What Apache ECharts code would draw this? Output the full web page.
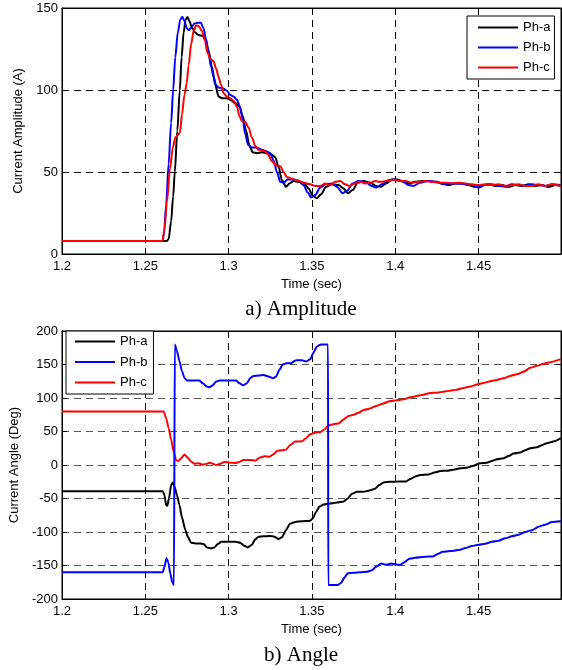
<!DOCTYPE html>
<html>
<head>
<meta charset="utf-8">
<script src="https://cdn.jsdelivr.net/npm/echarts@6/dist/echarts.min.js"></script>
<style>
html,body{margin:0;padding:0;background:#fff;}
#chart{width:562px;height:670px;}
</style>
</head>
<body>
<div id="chart"></div>
<script>
// ---------- DATA ----------
const seriesNames = ['Ph-a', 'Ph-b', 'Ph-c'];
const xTickStart = 1.2, xTickStep = 0.05, xEnd = 1.4995;
const ampTicks = [0, 50, 100, 150];
const angTicks = [-200, -150, -100, -50, 0, 50, 100, 150, 200];

// Amplitude, phase a
const ampATime = [1.2,1.2628,1.2640,1.2655,1.2667,1.2677,1.2692,1.2707,1.2718,1.2730,1.2742,1.2753,1.2765,1.2780,1.2800,1.2820,1.2845,1.2860,1.2880,1.2900,1.2920,1.2940,1.2960,1.2990,1.3010,1.3040,1.3065,1.3085,1.3105,1.3125,1.3145,1.3170,1.3200,1.3230,1.3260,1.3280,1.3300,1.3320,1.3345,1.3365,1.3390,1.3420,1.3450,1.3480,1.3505,1.3530,1.3555,1.3585,1.3620,1.3660,1.3690,1.3715,1.3745,1.3775,1.3810,1.3850,1.3885,1.3915,1.3945,1.3980,1.4010,1.4050,1.4085,1.4120,1.4160,1.4200,1.4240,1.4280,1.4320,1.4360,1.4400,1.4440,1.4480,1.4520,1.4560,1.4600,1.4640,1.4680,1.4720,1.4760,1.4800,1.4840,1.4880,1.4920,1.4960,1.4995];
const ampAVal  = [8,8,9,20,35,50,75,100,120,135,143,144.5,142,138,135,133.5,133,131,124,114,103,96,95,95,94,92,90,84,75,66,62,61.5,62,61.5,60.5,59,53,45,41,43,44.5,44,43.5,40,35.5,34,36.5,41,42.5,42,40,37,39,43.5,44.5,43.5,41.5,41,43,45.5,45.5,44,43,44,44.5,44.5,44,43,42,43,43,42,41,42,42.5,41.5,42,41,42,41.5,42.5,41.5,42,41,42,41.5];

// Amplitude, phase b
const ampBTime = [1.2,1.2603,1.2612,1.2625,1.2640,1.2655,1.2667,1.2680,1.2695,1.2710,1.2722,1.2735,1.2750,1.2762,1.2775,1.2795,1.2815,1.2833,1.2848,1.2865,1.2880,1.2895,1.2910,1.2925,1.2940,1.2965,1.2990,1.3010,1.3030,1.3050,1.3067,1.3085,1.3100,1.3117,1.3140,1.3165,1.3200,1.3230,1.3250,1.3270,1.3290,1.3310,1.3330,1.3355,1.3390,1.3420,1.3450,1.3475,1.3495,1.3520,1.3550,1.3580,1.3620,1.3650,1.3685,1.3710,1.3745,1.3780,1.3820,1.3860,1.3885,1.3920,1.3960,1.4000,1.4040,1.4080,1.4110,1.4150,1.4200,1.4250,1.4290,1.4330,1.4380,1.4420,1.4460,1.4500,1.4540,1.4580,1.4620,1.4660,1.4700,1.4740,1.4780,1.4820,1.4860,1.4900,1.4940,1.4995];
const ampBVal  = [8,8,12,30,55,80,100,120,135,143,144.7,142,137.5,136.5,138,140.5,141,141,138,131,122,114,108,103,101.5,101,99.5,97,96,94,90,82,73,66.5,65,65,63.5,62.5,61.5,57,50,44,43.5,45.5,45.5,44.5,42,37.5,34.5,36,40.5,42.5,43,41,37,38.5,43,44.5,44,41.5,40.5,42.5,45,45.5,44.5,42,41.5,43.5,44.5,44,42.5,43,43,42.5,42,40.5,42,42.5,41.5,41,42.5,42,41.5,42.5,42,41.5,42.5,42];

// Amplitude, phase c
const ampCTime = [1.2,1.2603,1.2615,1.2630,1.2648,1.2665,1.2680,1.2695,1.2708,1.2720,1.2735,1.2748,1.2760,1.2775,1.2790,1.2805,1.2820,1.2840,1.2858,1.2872,1.2890,1.2910,1.2925,1.2940,1.2955,1.2970,1.2990,1.3010,1.3030,1.3050,1.3065,1.3080,1.3100,1.3120,1.3140,1.3160,1.3180,1.3210,1.3235,1.3260,1.3285,1.3310,1.3330,1.3350,1.3375,1.3410,1.3450,1.3490,1.3520,1.3550,1.3580,1.3610,1.3640,1.3670,1.3700,1.3725,1.3760,1.3790,1.3820,1.3850,1.3880,1.3910,1.3950,1.3990,1.4020,1.4060,1.4100,1.4140,1.4180,1.4220,1.4260,1.4300,1.4340,1.4380,1.4420,1.4460,1.4500,1.4540,1.4580,1.4620,1.4660,1.4700,1.4740,1.4780,1.4820,1.4860,1.4900,1.4940,1.4995];
const ampCVal  = [8,8,15,32,52,65,71,72.5,74,85,97,104,115,128,136,139.5,139,136,130,123,119,117.5,113,108,103,98,96,95,93.5,90,84,81,80.5,77,71,66,63.5,63,61,56.5,54,53.5,50,47,46,45,43.5,42.5,41.5,41.5,43,42,44,44.5,42.5,41.5,43,44,43,43.5,44.5,44,44.5,45.5,44.5,44.5,43.5,44,44.5,44,43.5,43.5,43,43.5,43,42.5,42,42.5,42,42.5,41.5,42,42.5,41.5,41.5,42.5,41.5,42.5,41.5];

// Angle, phase a
const angATime = [1.2,1.2605,1.2615,1.2625,1.2632,1.2642,1.2655,1.2665,1.2675,1.2690,1.2705,1.2720,1.2740,1.2757,1.2775,1.2800,1.2830,1.2850,1.2870,1.2895,1.2915,1.2935,1.2957,1.2990,1.3040,1.3070,1.3090,1.3115,1.3140,1.3160,1.3180,1.3210,1.3245,1.3275,1.3300,1.3320,1.3345,1.3367,1.3400,1.3440,1.3487,1.3505,1.3525,1.3545,1.3570,1.3610,1.3650,1.3690,1.3715,1.3740,1.3770,1.3810,1.3845,1.3875,1.3905,1.3930,1.3970,1.4020,1.4065,1.4090,1.4120,1.4150,1.4200,1.4240,1.4270,1.4310,1.4350,1.4390,1.4430,1.4470,1.4510,1.4550,1.4580,1.4610,1.4650,1.4680,1.4710,1.4750,1.4780,1.4810,1.4850,1.4880,1.4910,1.4950,1.4995];
const angAVal  = [-39,-39,-45,-60,-61,-50,-30,-26,-32,-45,-60,-78,-97,-108,-116,-117,-117,-118,-123,-124.5,-123,-118,-114.5,-114.5,-114.5,-116,-120,-123,-119,-111,-107,-106.5,-106,-107,-110.5,-108,-97,-88,-85,-84,-83.5,-80,-70,-62,-59,-57.5,-56,-54.5,-50,-43,-40,-40,-38,-36,-30,-26,-25,-24.8,-24.5,-21,-17,-15,-14,-11,-9,-8.5,-7,-5,-4,-1,2.5,3.5,6,8.5,10,13.5,17,18.5,22,25,26.5,29.5,32.5,35,40];

// Angle, phase b
const angBTime = [1.2,1.2605,1.2615,1.2627,1.2638,1.2650,1.2662,1.2672,1.2677,1.2690,1.2705,1.2720,1.2735,1.2750,1.2790,1.2825,1.2845,1.2870,1.2885,1.2905,1.2925,1.2945,1.3000,1.3045,1.3065,1.3087,1.3110,1.3130,1.3150,1.3180,1.3210,1.3240,1.3267,1.3285,1.3305,1.3325,1.3345,1.3375,1.3405,1.3440,1.3467,1.3490,1.3510,1.3530,1.3555,1.3597,1.3598,1.3655,1.3675,1.3695,1.3715,1.3750,1.3790,1.3830,1.3860,1.3885,1.3915,1.3945,1.3975,1.4005,1.4030,1.4055,1.4085,1.4120,1.4180,1.4225,1.4255,1.4285,1.4330,1.4390,1.4420,1.4460,1.4500,1.4540,1.4580,1.4620,1.4660,1.4700,1.4740,1.4780,1.4820,1.4860,1.4900,1.4940,1.4995];
const angBVal  = [-160,-160,-152,-139,-145,-162,-175,-179,180,170,155,140,130,126,126,126,122,117,116,119,124.5,126,126,126,122,119,122,130,133,133.5,134.5,132,129.5,132,142,150,152,152,156.5,156.5,154.5,158,168,177,180,180,-179,-179,-176,-168,-161.5,-161,-160,-159.5,-157,-152,-147,-149,-147,-148.5,-149,-145,-140,-138.5,-137,-136.5,-133,-129.5,-128.5,-126.5,-124,-121,-119,-117.5,-114.5,-113,-109.5,-106.5,-104,-100,-97.5,-92,-89,-85,-84];

// Angle, phase c
const angCTime = [1.2,1.2610,1.2625,1.2640,1.2655,1.2670,1.2685,1.2700,1.2715,1.2735,1.2755,1.2775,1.2795,1.2820,1.2845,1.2865,1.2885,1.2905,1.2925,1.2950,1.2975,1.3010,1.3040,1.3065,1.3090,1.3130,1.3160,1.3185,1.3215,1.3245,1.3270,1.3290,1.3320,1.3345,1.3370,1.3400,1.3440,1.3465,1.3490,1.3525,1.3550,1.3575,1.3600,1.3630,1.3660,1.3690,1.3720,1.3750,1.3780,1.3810,1.3850,1.3885,1.3925,1.3965,1.4010,1.4050,1.4090,1.4130,1.4170,1.4210,1.4250,1.4290,1.4330,1.4370,1.4410,1.4450,1.4490,1.4530,1.4570,1.4610,1.4650,1.4690,1.4730,1.4770,1.4810,1.4850,1.4890,1.4930,1.4995];
const angCVal  = [80,80,70,55,38,20,7,6,10,15.5,11,5,2,2.5,0.5,1.5,3.5,2,0,2,4.5,3.5,3,4.5,7.5,7.5,6.5,11,13,12.5,16,21,22,23,30,35,35.5,40,46,48.5,49,53,59,61,62,68,73,75,78,82,84.5,88,91.5,95,96.5,98,101,103,105,107.5,108,109.5,111,112.5,115,117,120,122.5,125,127,129.5,133,135.5,139,145,148,151,153.5,158];

// ---------- CHART ----------
const zip = (t, v) => t.map((x, i) => [x, v[i]]);
const colors = ['#000000', '#0000ff', '#ff0000'];
const FONT = '"Liberation Sans", Arial, sans-serif';
const dash = [7, 5];

function xAxisPair(gridIndex) {
  const base = {
    type: 'value', gridIndex, min: xTickStart, max: xEnd, interval: xTickStep,
    axisLine: { show: true, onZero: false, lineStyle: { color: '#000', width: 1 } },
    axisTick: { show: true, inside: true, length: 5, lineStyle: { color: '#000' } }
  };
  return [
    Object.assign({}, base, {
      position: 'bottom',
      name: 'Time (sec)', nameLocation: 'middle', nameGap: 24,
      nameTextStyle: { color: '#000', fontFamily: FONT, fontSize: 13 },
      axisLabel: { color: '#000', fontFamily: FONT, fontSize: 13, margin: 6, showMinLabel: true, showMaxLabel: false },
      splitLine: { show: true, lineStyle: { color: '#000', type: dash, width: 1 } }
    }),
    Object.assign({}, base, {
      position: 'top', axisLabel: { show: false }, splitLine: { show: false }
    })
  ];
}
function yAxisPair(gridIndex, ticks, name, nameGap, gridColor) {
  const base = {
    type: 'value', gridIndex, min: ticks[0], max: ticks[ticks.length - 1], interval: ticks[1] - ticks[0],
    axisLine: { show: true, onZero: false, lineStyle: { color: '#000', width: 1 } },
    axisTick: { show: true, inside: true, length: 5, lineStyle: { color: '#000' } }
  };
  return [
    Object.assign({}, base, {
      position: 'left', name, nameLocation: 'middle', nameGap,
      nameTextStyle: { color: '#000', fontFamily: FONT, fontSize: 13 },
      axisLabel: { color: '#000', fontFamily: FONT, fontSize: 13, margin: 4, showMinLabel: true, showMaxLabel: true },
      splitLine: { show: true, lineStyle: { color: gridColor, type: dash, width: 1 } }
    }),
    Object.assign({}, base, {
      position: 'right', axisLabel: { show: false }, splitLine: { show: false }
    })
  ];
}

const legendCommon = {
  data: seriesNames, orient: 'vertical',
  itemWidth: 40, itemHeight: 14,
  backgroundColor: '#fff', borderColor: '#000', borderWidth: 1, borderRadius: 0,
  textStyle: { color: '#000', fontFamily: FONT, fontSize: 13 },
  itemStyle: { opacity: 0, borderWidth: 0 },
  lineStyle: { width: 2 },
  selectedMode: false
};

function lineSeries(name, idx, data, xi, yi, z, smooth) {
  return {
    type: 'line', name, data, xAxisIndex: xi, yAxisIndex: yi,
    symbol: 'none', showSymbol: false, smooth, smoothMonotone: 'x', z,
    lineStyle: { color: colors[idx], width: 2 }, itemStyle: { color: colors[idx] },
    silent: true
  };
}

const option = {
  animation: false,
  backgroundColor: '#fff',
  grid: [
    { left: 62, right: 1, top: 8, height: 246, show: true, borderColor: '#000', borderWidth: 1, outerBoundsMode: 'none', containLabel: false },
    { left: 62, right: 1, top: 331, height: 268, show: true, borderColor: '#000', borderWidth: 1, outerBoundsMode: 'none', containLabel: false }
  ],
  xAxis: [...xAxisPair(0), ...xAxisPair(1)],
  yAxis: [
    ...yAxisPair(0, ampTicks, 'Current Amplitude (A)', 27, '#000'),
    ...yAxisPair(1, angTicks, 'Current Angle (Deg)', 30, '#555')
  ],
  legend: [
    Object.assign({}, legendCommon, { left: 467, top: 16, itemGap: 7, padding: [5, 4, 5, 10] }),
    Object.assign({}, legendCommon, { left: 66, top: 331, itemGap: 7.5, padding: [4, 6, 5, 8] })
  ],
  graphic: [
    { type: 'text', x: 301, y: 309, style: { text: 'a) Amplitude', font: '21px "Liberation Serif", "Times New Roman", serif', fill: '#000', textAlign: 'center', textVerticalAlign: 'middle' } },
    { type: 'text', x: 301, y: 655, style: { text: 'b) Angle', font: '21px "Liberation Serif", "Times New Roman", serif', fill: '#000', textAlign: 'center', textVerticalAlign: 'middle' } }
  ],
  series: [
    lineSeries('Ph-a', 0, zip(ampATime, ampAVal), 0, 0, 2, 0.3),
    lineSeries('Ph-b', 1, zip(ampBTime, ampBVal), 0, 0, 3, 0.3),
    lineSeries('Ph-c', 2, zip(ampCTime, ampCVal), 0, 0, 4, 0.3),
    lineSeries('Ph-a', 0, zip(angATime, angAVal), 2, 2, 3, 0.2),
    lineSeries('Ph-b', 1, zip(angBTime, angBVal), 2, 2, 4, 0.2),
    lineSeries('Ph-c', 2, zip(angCTime, angCVal), 2, 2, 2, 0.2)
  ]
};

const chart = echarts.init(document.getElementById('chart'), null, { renderer: 'canvas' });
chart.setOption(option);
</script>
</body>
</html>
